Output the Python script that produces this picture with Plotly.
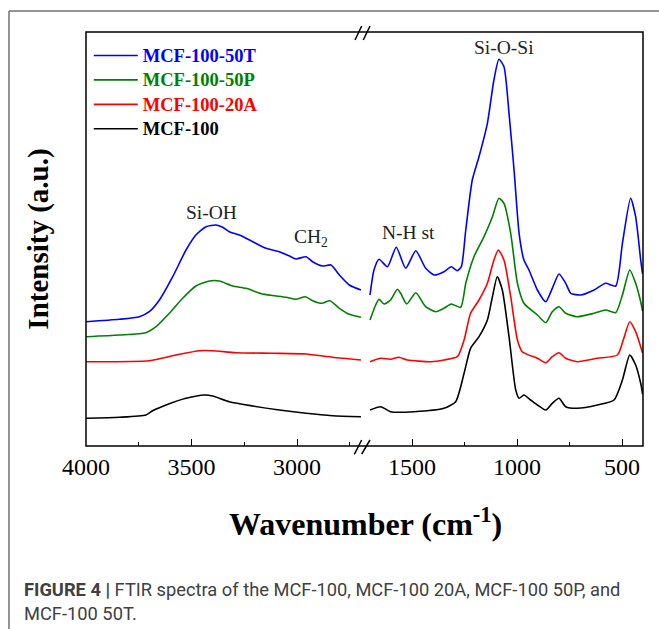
import plotly.graph_objects as go

# ---------------- data ----------------
series_names = ["MCF-100-50T", "MCF-100-50P", "MCF-100-20A", "MCF-100"]
series_colors = ["#0000ff", "#008000", "#ff0000", "#000000"]

# High-wavenumber window (4000 - ~2700 cm-1)
wn_50T_hi = [4000, 3842, 3747, 3700, 3652, 3589, 3526, 3479, 3431, 3384, 3352, 3321, 3273,
             3210, 3147, 3084, 3036, 3005, 2957, 2926, 2878, 2839, 2799, 2752, 2697]
int_50T_hi = [124.3, 126.7, 129.3, 134.3, 146, 169.3, 196, 211, 219.3, 221, 218.7, 214.3, 211,
              204.3, 197.7, 194.3, 190, 187, 189.3, 184.3, 180, 181, 171, 161, 156]

wn_50P_hi = [4000, 3842, 3716, 3668, 3605, 3542, 3479, 3415, 3368, 3305, 3242, 3163, 3052,
             3005, 2960, 2926, 2882, 2844, 2799, 2752, 2697]
int_50P_hi = [109.3, 111, 113.3, 119.3, 132.7, 147.7, 160, 165, 165, 160, 157.7, 152, 148.7,
              146.7, 149.3, 145.3, 142.7, 145.3, 137.7, 131.7, 128.7]

wn_20A_hi = [4000, 3700, 3573, 3463, 3400, 3289, 3115, 2957, 2831, 2697]
int_20A_hi = [84.3, 85.3, 91, 95.3, 95.3, 93.3, 92.7, 92, 88.7, 86]

wn_100_hi = [4000, 3842, 3716, 3684, 3621, 3526, 3439, 3400, 3321, 3210, 3084, 2957, 2831, 2697]
int_100_hi = [27.7, 28.7, 31, 35.3, 41, 47.7, 51, 50, 44.3, 40, 36, 32.7, 30.3, 29.3]

# Low-wavenumber window (~1700 - 400 cm-1)
wn_50T_lo = [1700, 1681, 1657, 1617, 1575, 1530, 1482, 1435, 1395, 1348, 1313, 1284, 1265,
             1244, 1213, 1181, 1141, 1110, 1086, 1062, 1038, 1014, 990, 967, 943, 903, 863,
             832, 800, 768, 744, 697, 633, 578, 530, 498, 459, 435, 411, 402]
int_50T_lo = [151, 176, 186.7, 179.3, 198.7, 177.7, 195.3, 177.7, 171, 174.3, 179.3, 175.3, 179.3,
              216, 266, 289.3, 322.7, 366, 386.7, 379.3, 332.7, 276, 212.7, 186, 176, 156, 144.3,
              157.7, 172, 162.7, 152.7, 151, 156, 162.7, 160, 202.7, 247.7, 229.3, 186, 172]

wn_50P_lo = [1700, 1673, 1657, 1633, 1602, 1570, 1554, 1525, 1482, 1435, 1387, 1348, 1313,
             1268, 1244, 1205, 1157, 1117, 1086, 1062, 1030, 998, 967, 903, 863, 832, 800,
             768, 713, 633, 578, 530, 498, 463, 435, 411, 402]
int_50P_lo = [126, 141, 146.7, 142, 146, 156.7, 152.7, 142, 153.3, 139.3, 134.3, 137.7, 142,
              138.7, 162.7, 189.3, 209.3, 229.3, 247.7, 242.7, 212.7, 162.7, 142.7, 131, 123.3,
              134.3, 139.3, 132.7, 129.3, 132.7, 136, 133.3, 151, 176, 162.7, 144.3, 135]

wn_20A_lo = [1700, 1649, 1602, 1562, 1522, 1411, 1348, 1284, 1252, 1221, 1181, 1141, 1110,
             1089, 1062, 1030, 998, 975, 903, 863, 832, 800, 768, 713, 617, 522, 494, 463,
             435, 411, 402]
int_20A_lo = [84.3, 87.7, 86.7, 88.7, 86, 84.3, 86, 89.3, 106, 132.7, 146, 162.7, 186,
              196, 186, 149.3, 106, 94.3, 87.7, 83.3, 89.3, 93.3, 87.7, 84.3, 87.7, 91, 106, 124.3,
              114.3, 99.3, 93]

wn_100_lo = [1700, 1649, 1602, 1490, 1348, 1292, 1252, 1221, 1181, 1141, 1117, 1094, 1070,
             1038, 1006, 990, 967, 935, 903, 863, 832, 800, 768, 713, 617, 538, 498, 463,
             435, 411, 402]
int_100_lo = [36, 39.3, 34.3, 34.3, 37.7, 44.3, 72.7, 97.7, 109.3, 126, 149.3, 169.3, 156,
              109.3, 56, 47.7, 51, 46, 41, 36, 42.7, 47.7, 39.3, 37.7, 41, 46, 66, 91,
              81, 62.7, 52]

hi_wn = [wn_50T_hi, wn_50P_hi, wn_20A_hi, wn_100_hi]
hi_int = [int_50T_hi, int_50P_hi, int_20A_hi, int_100_hi]
lo_wn = [wn_50T_lo, wn_50P_lo, wn_20A_lo, wn_100_lo]
lo_int = [int_50T_lo, int_50P_lo, int_20A_lo, int_100_lo]

# band labels: (text, wavenumber, intensity, axis)
band_labels = [
    ("Si-OH", 3403, 234, "x"),
    ("CH<sub>2</sub>", 2934, 208, "x"),
    ("N-H st", 1519, 214, "x2"),
    ("Si-O-Si", 1062, 399, "x2"),
]

x_hi_range = [4000, 2682.5]
x_lo_range = [1728.6, 400]
y_range = [0, 414]

# ---------------- layout helpers ----------------
W, H = 659, 629
ML, MR, MT, MB = 86, 16, 32, 183
PW, PH = W - ML - MR, H - MT - MB
SPLIT = (364 - ML) / PW
SERIF = "Liberation Serif, Times New Roman, serif"
SANS = "Roboto, Liberation Sans, sans-serif"


def px(x):
    return (x - ML) / PW


def py(y):
    return (H - MB - y) / PH


fig = go.Figure()
for i, name in enumerate(series_names):
    c = series_colors[i]
    label = f"<span style='color:{c};font-size:18.5px'><b>{name}</b></span>"
    fig.add_trace(go.Scatter(
        x=hi_wn[i], y=hi_int[i], xaxis="x", yaxis="y", mode="lines",
        line=dict(color=c, width=1.6, shape="spline", smoothing=0.6),
        name=label, legendgroup=name, showlegend=True, hoverinfo="skip"))
for i, name in enumerate(series_names):
    c = series_colors[i]
    fig.add_trace(go.Scatter(
        x=lo_wn[i], y=lo_int[i], xaxis="x2", yaxis="y", mode="lines",
        line=dict(color=c, width=1.6, shape="spline", smoothing=0.6),
        name=name, legendgroup=name, showlegend=False, hoverinfo="skip"))

xcommon = dict(
    dtick=500, tick0=0, ticks="inside", ticklen=7, tickwidth=1, tickcolor="black",
    minor=dict(dtick=250, tick0=0, ticks="inside", ticklen=4, tickwidth=1, tickcolor="black"),
    showgrid=False, zeroline=False, showline=False, anchor="y", ticklabelstandoff=4,
    tickfont=dict(family=SERIF, size=24, color="black"),
)

shapes = [
    dict(type="rect", xref="paper", yref="paper", x0=0, y0=0, x1=1, y1=1,
         line=dict(color="black", width=1.5)),
    # outer figure frame
    dict(type="line", xref="paper", yref="paper", x0=px(9), y0=py(629), x1=px(9), y1=py(11),
         line=dict(color="#707070", width=1.5)),
    dict(type="line", xref="paper", yref="paper", x0=px(9), y0=py(11), x1=px(659), y1=py(11),
         line=dict(color="#707070", width=1.5)),
]
# axis break marks
for (x0, y0, x1, y1) in [(355, 40, 361.7, 26), (363.3, 40, 370, 26),
                         (354.3, 454.3, 361.7, 440), (361.7, 454, 370, 440)]:
    shapes.append(dict(type="line", xref="paper", yref="paper",
                       x0=px(x0), y0=py(y0), x1=px(x1), y1=py(y1),
                       line=dict(color="black", width=1.5)))

annotations = []
for text, wn, val, ax in band_labels:
    annotations.append(dict(text=text, x=wn, y=val, xref=ax, yref="y", showarrow=False,
                            xanchor="center", yanchor="middle",
                            font=dict(family=SERIF, size=19.5, color="#222")))
annotations.append(dict(text="<b>Wavenumber (cm<sup>-1</sup>)</b>", x=px(365), y=py(522),
                        xref="paper", yref="paper", showarrow=False,
                        xanchor="center", yanchor="middle",
                        font=dict(family=SERIF, size=32, color="black")))
annotations.append(dict(text="<b>FIGURE 4 |</b> FTIR spectra of the MCF-100, MCF-100 20A, MCF-100 50P, and",
                        x=px(22), y=py(589), xref="paper", yref="paper", showarrow=False,
                        xanchor="left", yanchor="middle", align="left",
                        font=dict(family=SANS, size=18.3, color="#404040")))
annotations.append(dict(text="MCF-100 50T.",
                        x=px(22), y=py(613), xref="paper", yref="paper", showarrow=False,
                        xanchor="left", yanchor="middle", align="left",
                        font=dict(family=SANS, size=18.3, color="#404040")))

fig.update_layout(
    width=W, height=H,
    margin=dict(l=ML, r=MR, t=MT, b=MB, pad=0),
    paper_bgcolor="white", plot_bgcolor="white",
    xaxis=dict(domain=[0, SPLIT], range=x_hi_range, **xcommon),
    xaxis2=dict(domain=[SPLIT, 1], range=x_lo_range, **xcommon),
    yaxis=dict(range=y_range, showticklabels=False, ticks="", showgrid=False, zeroline=False,
               showline=False,
               title=dict(text="<b>Intensity (a.u.)</b>", standoff=27,
                          font=dict(family=SERIF, size=29, color="black"))),
    legend=dict(x=0.005, y=0.985, xanchor="left", yanchor="top", bgcolor="rgba(0,0,0,0)",
                font=dict(family=SERIF, size=16.5, color="black"), itemwidth=44,
                tracegroupgap=0),
    shapes=shapes, annotations=annotations, showlegend=True,
)

fig.write_html("out.html")
